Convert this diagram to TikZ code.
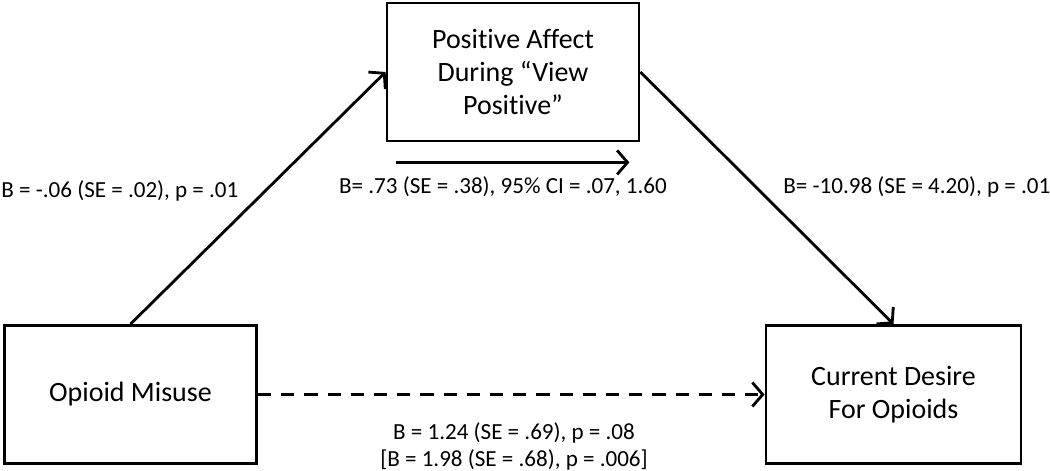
\documentclass[tikz,border=0pt]{standalone}
\usepackage{fontspec}
\setmainfont{Carlito}[Ligatures=NoCommon]
\usepackage{tikz}
\usetikzlibrary{arrows.meta, positioning}

\begin{document}
\begin{tikzpicture}[>={Straight Barb[length=2.6mm, width=6mm, line width=2pt]}, line width=2pt,
    varbox/.style={draw, rectangle, line width=2pt, minimum width=6.3cm, minimum height=3.45cm, align=center, inner sep=0pt, font=\fontsize{19.9}{23.5}\selectfont},
    coef/.style={inner sep=0pt, align=center, font=\fontsize{16.4}{18.5}\selectfont}]

    \useasboundingbox (0,0) rectangle (26.25,11.75);

    % Nodes
    \node (misuse) [varbox] at (3.2625,1.8875) {Opioid Misuse};
    \node (affect) [varbox] at (12.825,9.95) {Positive Affect \\ During “View \\ Positive”};
    \node (desire) [varbox, minimum width=6.375cm] at (22.3375,1.8875) {Current Desire \\ For Opioids};
    \coordinate (ind-a) at ([xshift=0.25cm, yshift=-0.5cm]affect.south west);
    \coordinate (ind-b) at ([xshift=-0.275cm, yshift=-0.5cm]affect.south east);

    % Coefficients
    \node (coef-a) [coef, anchor=base west] at (0,6.8) {B = -.06 (SE = .02), p = .01};
    \node (coef-ind) [coef, anchor=base] at (12.575,6.9) {B= .73 (SE = .38), 95\% CI = .07, 1.60};
    \node (coef-b) [coef, anchor=base west] at (19.55,6.9) {B= -10.98 (SE = 4.20), p = .01};
    \node (coef-c) [coef, anchor=base] at (12.85,0.1) {B = 1.24 (SE = .69), p = .08 \\ {[B = 1.98 (SE = .68), p = .006]}};

    % Links
    \draw[->] (misuse.north) -- (affect.west);
    \draw[->] (affect.east) -- (desire.north);
    \draw[->, dash pattern=on 0.33cm off 0.25cm] (misuse.east) -- (desire.west);
    \draw[->] (ind-a) -- (ind-b);
\end{tikzpicture}
\end{document}
